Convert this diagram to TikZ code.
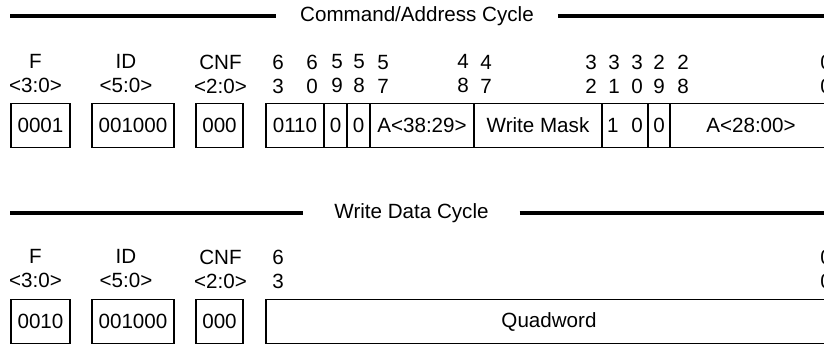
\documentclass[tikz,border=0pt]{standalone}
\usepackage{fontspec}
\setmainfont{Liberation Sans}
\usetikzlibrary{positioning}

\begin{document}
\begin{tikzpicture}[x=0.5pt,y=-0.5pt]
        \tikzset{field/.style={draw, rectangle, line width=0.9pt, inner sep=0pt, outer sep=0pt, minimum height=22pt, font=\fontsize{10.3pt}{12pt}\selectfont},
        fname/.style={align=center, inner sep=0pt, font=\fontsize{10.3pt}{12pt}\selectfont},
        bits/.style={fname},
        title/.style={inner ysep=0pt, outer sep=0pt, font=\fontsize{10.3pt}{12pt}\selectfont},
        rule/.style={line width=2pt}
        }
        \useasboundingbox (0,0) rectangle (824,346);
        \clip (0,0) rectangle (824,346);

%% command/address cycle
        \node [title, inner xsep=12pt] (cmd) at (417,16) {Command/Address Cycle};
        \coordinate (cmdleft) at (10,16);
        \coordinate (cmdright) at (840,16);
        \node [fname] (cmdFn) at (35.5,74) {F\\<3:0>};
        \node [fname] (cmdIDn) at (126,74) {ID\\<5:0>};
        \node [fname] (cmdCNFn) at (220.5,74) {CNF\\<2:0>};
        \node [field, minimum width=29.5pt] (cmdF) at (40.5,125.5) {0001};
        \node [field, minimum width=41pt] (cmdID) at (133,125.5) {001000};
        \node [field, minimum width=23.5pt] (cmdCNF) at (219.5,125.5) {000};
        \node [field, minimum width=29pt, anchor=west] (cmdop) at (266,125.5) {0110};
        \node [field, minimum width=11.5pt, right=0pt of cmdop] (cmdb59) {0};
        \node [field, minimum width=11.5pt, right=0pt of cmdb59] (cmdb58) {0};
        \node [field, minimum width=52pt, right=0pt of cmdb58] (cmdhi) {A<38:29>};
        \node [field, minimum width=64pt, right=0pt of cmdhi] (cmdmask) {Write Mask};
        \node [field, minimum width=23pt, right=0pt of cmdmask] (cmdb31) {1\hspace{6.4pt}0};
        \node [field, minimum width=11pt, right=0pt of cmdb31] (cmdb29) {0};
        \node [field, minimum width=81pt, right=0pt of cmdb29] (cmdlo) {A<28:00>};
        \node [bits] (cmdn63) at (278,74) {6\\3};
        \node [bits] (cmdn60) at (312,74) {6\\0};
        \node [bits] (cmdn59) at (337,74) {5\\9};
        \node [bits] (cmdn58) at (359,74) {5\\8};
        \node [bits] (cmdn57) at (383,74) {5\\7};
        \node [bits] (cmdn48) at (463,74) {4\\8};
        \node [bits] (cmdn47) at (486,74) {4\\7};
        \node [bits] (cmdn32) at (591,74) {3\\2};
        \node [bits] (cmdn31) at (614,74) {3\\1};
        \node [bits] (cmdn30) at (637,74) {3\\0};
        \node [bits] (cmdn29) at (659,74) {2\\9};
        \node [bits] (cmdn28) at (683,74) {2\\8};
        \node [bits] (cmdn00) at (826,74) {0\\0};

%% write data cycle
        \node [title, inner xsep=15.5pt] (wdc) at (411.5,213) {Write Data Cycle};
        \coordinate (wdcleft) at (10,213);
        \coordinate (wdcright) at (840,213);
        \node [fname] (wdcFn) at (35.5,269) {F\\<3:0>};
        \node [fname] (wdcIDn) at (126,269) {ID\\<5:0>};
        \node [fname] (wdcCNFn) at (220.5,269) {CNF\\<2:0>};
        \node [field, minimum width=29.5pt] (wdcF) at (40.5,321.5) {0010};
        \node [field, minimum width=41pt] (wdcID) at (133,321.5) {001000};
        \node [field, minimum width=23.5pt] (wdcCNF) at (219.5,321.5) {000};
        \node [field, minimum width=283pt, anchor=west] (wdcquad) at (266,321.5) {Quadword};
        \node [bits] (wdcn63) at (278,269) {6\\3};
        \node [bits] (wdcn00) at (826,269) {0\\0};

%% rules
        \draw[rule] (cmdleft) -- (cmd) (cmd) -- (cmdright)
                    (wdcleft) -- (wdc) (wdc) -- (wdcright);
    \end{tikzpicture}
\end{document}
